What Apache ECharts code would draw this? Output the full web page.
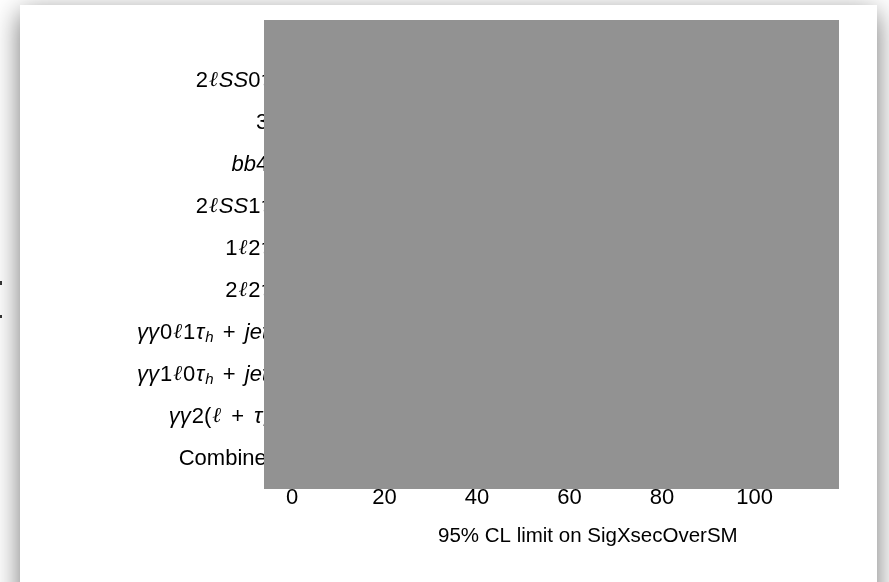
<!DOCTYPE html>
<html>
<head>
<meta charset="utf-8">
<script src="https://cdn.jsdelivr.net/npm/echarts@6/dist/echarts.min.js"></script>
<style>
html,body{margin:0;padding:0;background:#fff;width:889px;height:582px;overflow:hidden;}
#card{position:absolute;left:20px;top:5px;width:857px;height:700px;background:#fff;box-shadow:0 8px 26px rgba(0,0,0,0.55);}
#chart{position:absolute;left:0;top:0;width:889px;height:582px;}
</style>
</head>
<body>
<div id="card"></div>
<div id="chart"></div>
<script>
// Channels, top to bottom ("_h" marks a subscript h)
var categories = [
  '2ℓSS0τ_h',
  '3ℓ',
  'bb4ℓ',
  '2ℓSS1τ_h',
  '1ℓ2τ_h',
  '2ℓ2τ_h',
  'γγ0ℓ1τ_h + jets',
  'γγ1ℓ0τ_h + jets',
  'γγ2(ℓ + τ_h)',
  'Combined'
];
var xTicks = [0, 20, 40, 60, 80, 100];
var xMin = 0, xMax = 115, xStep = 20;
var axisTitle = '95% CL limit on SigXsecOverSM';

function styleOf(ch) {
  if (/[A-Za-z]/.test(ch)) return 'it';
  if (ch === 'γ' || ch === 'τ') return 'gr';
  if (ch === 'ℓ') return 'ell';
  if (ch === '+') return 'pl';
  return 'up';
}
function fmtCat(v) {
  if (v === 'Combined') return '{up|' + v + '}';
  var s = '', cur = null, buf = '';
  function flush() { if (buf.length) s += '{' + cur + '|' + buf + '}'; buf = ''; }
  for (var i = 0; i < v.length; i++) {
    if (v[i] === '_' && v[i + 1] === 'h') { flush(); cur = null; s += '{sub|h}'; i++; continue; }
    var st = styleOf(v[i]);
    if (st !== cur || st === 'ell' || st === 'pl') { flush(); cur = st; }
    buf += v[i];
  }
  flush();
  return s;
}

var chart = echarts.init(document.getElementById('chart'), null, {renderer: 'canvas'});
var FONT = 'Liberation Sans, Arial, Helvetica, sans-serif';
chart.setOption({
  backgroundColor: 'transparent',
  animation: false,
  title: {
    text: axisTitle,
    left: 433, top: 521,
    textStyle: {fontFamily: FONT, fontSize: 20.5, fontWeight: 'normal', color: '#000'}
  },
  grid: {left: 292, top: 60, width: 532, height: 420, containLabel: false},
  xAxis: {
    type: 'value', min: xMin, max: xMax, interval: xStep,
    axisLine: {show: true, lineStyle: {color: '#000'}},
    axisTick: {show: true, lineStyle: {color: '#000'}},
    splitLine: {show: false},
    axisLabel: {
      margin: 7, color: '#000', fontFamily: FONT, fontSize: 22,
      formatter: function (v) { return xTicks.indexOf(v) >= 0 ? String(v) : ''; }
    }
  },
  yAxis: {
    type: 'category', data: categories, inverse: true,
    axisLine: {show: true, lineStyle: {color: '#000'}},
    axisTick: {show: false},
    axisLabel: {
      margin: 13, color: '#000', formatter: fmtCat,
      rich: {
        it: {fontFamily: FONT, fontSize: 22, fontStyle: 'italic', color: '#000'},
        gr: {fontFamily: FONT, fontSize: 22, fontStyle: 'italic', color: '#000', padding: [0, 1, 0, 1]},
        ell: {fontFamily: 'DejaVu Serif, serif', fontSize: 21, fontStyle: 'italic', color: '#000', padding: [0, 1, 0, 1]},
        pl: {fontFamily: FONT, fontSize: 22, color: '#000', padding: [0, 3, 0, 3]},
        up: {fontFamily: FONT, fontSize: 22, color: '#000'},
        sub: {fontFamily: FONT, fontSize: 15, fontStyle: 'italic', color: '#000', padding: [10, 0, 0, 0]}
      }
    }
  },
  series: [],
  graphic: [
    {type: 'rect', z: 1000, shape: {x: 264, y: 20, width: 575, height: 469}, style: {fill: '#929292'}},
    {type: 'rect', z: 1000, shape: {x: 0, y: 281, width: 2, height: 4}, style: {fill: '#333'}},
    {type: 'rect', z: 1000, shape: {x: 0, y: 315, width: 2, height: 3}, style: {fill: '#333'}}
  ]
});
</script>
</body>
</html>
